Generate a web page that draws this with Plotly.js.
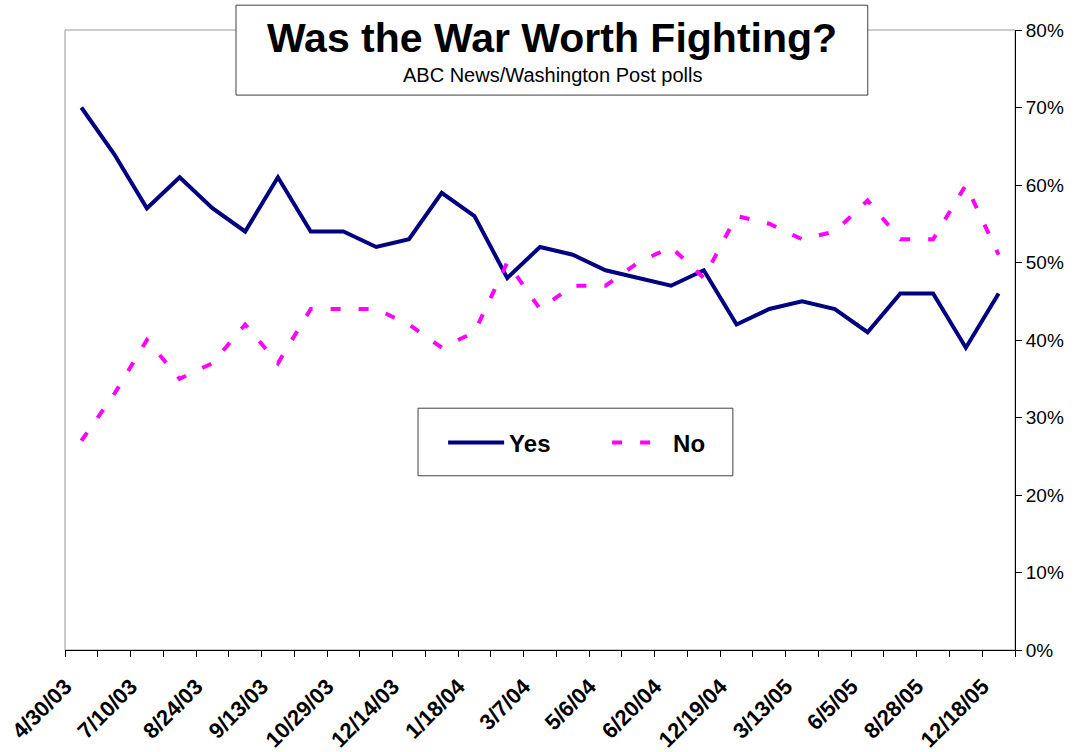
<!DOCTYPE html>
<html>
<head>
<meta charset="utf-8">
<script src="https://cdn.plot.ly/plotly-3.0.1.min.js"></script>
<style>html,body{margin:0;padding:0;background:#fff;}#chart{width:1078px;height:752px;}</style>
</head>
<body>
<div id="chart"></div>
<script>
// Poll dates (every other one is labelled on the axis)
const pollDates = ["4/30/03","6/22/03","7/10/03","8/11/03","8/24/03","9/7/03","9/13/03","10/13/03","10/29/03","11/16/03","12/14/03","12/21/03","1/18/04","2/11/04","3/7/04","4/18/04","5/6/04","5/23/04","6/20/04","7/25/04","12/19/04","1/16/05","3/13/05","4/24/05","6/5/05","6/26/05","8/28/05","11/2/05","12/18/05"];
const yesValues = [70,64,57,61,57,54,61,54,54,52,53,59,56,48,52,51,49,48,47,49,42,44,45,44,41,46,46,39,46];
const noValues  = [27,33,40,35,37,42,37,44,44,44,42,39,41,50,44,47,47,50,52,48,56,55,53,54,58,53,53,60,51];
const tickLabels = ["4/30/03","7/10/03","8/24/03","9/13/03","10/29/03","12/14/03","1/18/04","3/7/04","5/6/04","6/20/04","12/19/04","3/13/05","6/5/05","8/28/05","12/18/05"];
const yTicks = [0,10,20,30,40,50,60,70,80];
const yTickLabels = ["0%","10%","20%","30%","40%","50%","60%","70%","80%"];

const xIdx = pollDates.map((d, i) => i);
const tickIdx = tickLabels.map(l => pollDates.indexOf(l));
const boundaries = pollDates.map((d, i) => i - 0.5).concat([pollDates.length - 0.5]);
const FONT = "Liberation Sans, Arial, Helvetica, sans-serif";

const traces = [
  {x: xIdx, y: yesValues, text: pollDates, name: "Yes", type: "scatter", mode: "lines",
   line: {color: "#000080", width: 4}, hovertemplate: "%{text}: %{y}%<extra>Yes</extra>"},
  {x: xIdx, y: noValues, text: pollDates, name: "No", type: "scatter", mode: "lines",
   line: {color: "#FF00FF", width: 4, dash: "10px,18px"}, hovertemplate: "%{text}: %{y}%<extra>No</extra>"}
];

const layout = {
  width: 1078, height: 752,
  margin: {l: 65, r: 63, t: 30, b: 102},
  paper_bgcolor: "#fff", plot_bgcolor: "#fff",
  font: {family: FONT, color: "#000"},
  showlegend: true,
  title: {text: "<b>Was the War Worth Fighting?</b>", font: {family: FONT, size: 41, color: "#000"},
          xref: "container", x: 552/1078, xanchor: "center", yref: "container", y: 1 - 38/752, yanchor: "middle"},
  xaxis: {
    type: "linear", range: [-0.5, pollDates.length - 0.5],
    tickmode: "array", tickvals: tickIdx, ticktext: tickLabels,
    ticks: "", tickangle: -45, ticklabelstandoff: 14, ticklabelshift: -16,
    tickfont: {family: FONT, size: 22, weight: "bold", color: "#000"},
    showline: true, linecolor: "#000", linewidth: 1, showgrid: false, zeroline: false,
    minor: {tickmode: "array", tickvals: boundaries, ticks: "outside", ticklen: 6, tickcolor: "#000", tickwidth: 1, showgrid: false}
  },
  yaxis: {
    side: "right", range: [0, 80], tickmode: "array", tickvals: yTicks, ticktext: yTickLabels,
    ticks: "outside", ticklen: 6, tickcolor: "#000",
    tickfont: {family: FONT, size: 19, color: "#000"},
    showline: true, linecolor: "#000", linewidth: 1, showgrid: false, zeroline: false
  },
  legend: {orientation: "h", x: 0.398, xanchor: "left", y: 0.334, yanchor: "middle",
           bgcolor: "rgba(0,0,0,0)", borderwidth: 0, itemwidth: 56, entrywidth: 93,
           font: {family: FONT, size: 24, weight: "bold", color: "#000"}},
  shapes: [
    {type: "rect", xref: "paper", yref: "paper", x0: 0, x1: 1, y0: 0, y1: 1, layer: "below",
     line: {color: "#999", width: 1}},
    {type: "rect", xref: "paper", yref: "paper", x0: 0.18, x1: 0.845, y0: 0.895, y1: 1.040, layer: "above",
     fillcolor: "#fff", line: {color: "#404040", width: 1}},
    {type: "rect", xref: "paper", yref: "paper", x0: 0.3716, x1: 0.703, y0: 0.281, y1: 0.390, layer: "above",
     fillcolor: "#fff", line: {color: "#404040", width: 1}}
  ],
  annotations: [
    {text: "ABC News/Washington Post polls", xref: "paper", yref: "paper", x: (552-65)/950, y: (650-75)/620,
     xanchor: "center", yanchor: "middle", showarrow: false, font: {family: FONT, size: 20, color: "#000"}}
  ]
};

Plotly.newPlot("chart", traces, layout, {displayModeBar: false, staticPlot: true});
</script>
</body>
</html>
